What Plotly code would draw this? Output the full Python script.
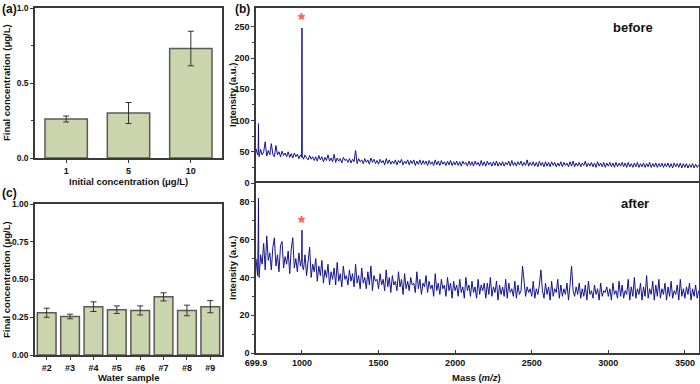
import plotly.graph_objects as go

# ---------------- data ----------------
init_conc = ["1", "5", "10"]
final_conc_a = [0.26, 0.30, 0.73]
err_a = [0.02, 0.07, 0.115]

samples = ["#2", "#3", "#4", "#5", "#6", "#7", "#8", "#9"]
final_conc_c = [0.28, 0.255, 0.32, 0.30, 0.295, 0.385, 0.295, 0.32]
err_c = [0.03, 0.015, 0.032, 0.025, 0.03, 0.027, 0.035, 0.04]

mass = [
    700, 710, 714, 716, 718, 720, 730, 740, 750, 760, 770, 780, 790,
    800, 810, 820, 830, 840, 850, 860, 870, 880, 890,
    900, 910, 920, 930, 940, 950, 960, 970, 980, 990, 998,
    1000, 1002, 1010, 1020, 1030, 1040, 1050, 1060, 1070, 1080, 1090,
    1100, 1110, 1120, 1130, 1140, 1150, 1160, 1170, 1180, 1190,
    1200, 1210, 1220, 1230, 1240, 1250, 1260, 1270, 1280, 1290,
    1300, 1310, 1320, 1330, 1340, 1350, 1360, 1370, 1380, 1390,
    1400, 1410, 1420, 1430, 1440, 1450, 1460, 1470, 1480, 1490,
    1500, 1510, 1520, 1530, 1540, 1550, 1560, 1570, 1580, 1590,
    1600, 1610, 1620, 1630, 1640, 1650, 1660, 1670, 1680, 1690,
    1700, 1710, 1720, 1730, 1740, 1750, 1760, 1770, 1780, 1790,
    1800, 1810, 1820, 1830, 1840, 1850, 1860, 1870, 1880, 1890,
    1900, 1910, 1920, 1930, 1940, 1950, 1960, 1970, 1980, 1990,
    2000, 2010, 2020, 2030, 2040, 2050, 2060, 2070, 2080, 2090,
    2100, 2110, 2120, 2130, 2140, 2150, 2160, 2170, 2180, 2190,
    2200, 2210, 2220, 2230, 2240, 2250, 2260, 2270, 2280, 2290,
    2300, 2310, 2320, 2330, 2340, 2350, 2360, 2370, 2380, 2390,
    2400, 2410, 2420, 2430, 2440, 2450, 2460, 2470, 2480, 2490,
    2500, 2510, 2520, 2530, 2540, 2550, 2560, 2570, 2580, 2590,
    2600, 2610, 2620, 2630, 2640, 2650, 2660, 2670, 2680, 2690,
    2700, 2710, 2720, 2730, 2740, 2750, 2760, 2770, 2780, 2790,
    2800, 2810, 2820, 2830, 2840, 2850, 2860, 2870, 2880, 2890,
    2900, 2910, 2920, 2930, 2940, 2950, 2960, 2970, 2980, 2990,
    3000, 3010, 3020, 3030, 3040, 3050, 3060, 3070, 3080, 3090,
    3100, 3110, 3120, 3130, 3140, 3150, 3160, 3170, 3180, 3190,
    3200, 3210, 3220, 3230, 3240, 3250, 3260, 3270, 3280, 3290,
    3300, 3310, 3320, 3330, 3340, 3350, 3360, 3370, 3380, 3390,
    3400, 3410, 3420, 3430, 3440, 3450, 3460, 3470, 3480, 3490,
    3500, 3510, 3520, 3530, 3540, 3550, 3560, 3570, 3580, 3590,
]

intensity_before = [
    55, 45, 49, 95, 47, 42, 54, 45, 50, 66, 43, 52, 45,
    63, 46, 42, 60, 45, 50, 42, 51, 44, 48,
    42, 50, 41, 47, 40, 48, 42, 46, 39, 45, 41,
    248, 43, 38, 45, 40, 37, 44, 38, 42, 36, 42,
    35, 44, 37, 42, 34, 41, 36, 45, 35, 40,
    34, 46, 33, 40, 35, 39, 32, 41, 36, 38,
    33, 39, 32, 38, 34, 52, 31, 39, 34, 37,
    31, 39, 33, 37, 30, 40, 33, 38, 31, 36,
    30, 38, 32, 36, 29, 39, 31, 37, 30, 35,
    31, 37, 29, 36, 32, 38, 29, 35, 31, 37,
    29, 36, 31, 37, 28, 35, 30, 37, 29, 36,
    30, 35, 28, 36, 30, 34, 28, 37, 29, 35,
    28, 36, 30, 34, 28, 35, 29, 36, 28, 34,
    29, 35, 28, 34, 27, 35, 30, 33, 27, 35,
    28, 34, 27, 35, 29, 33, 27, 36, 28, 34,
    27, 35, 29, 33, 27, 34, 28, 35, 27, 33,
    28, 34, 27, 33, 29, 35, 27, 36, 28, 33,
    27, 34, 29, 35, 27, 33, 28, 37, 27, 33,
    28, 34, 27, 33, 26, 35, 28, 33, 26, 34,
    27, 33, 26, 34, 28, 33, 26, 32, 27, 34,
    26, 33, 28, 32, 26, 34, 27, 35, 26, 32,
    27, 33, 26, 32, 28, 35, 26, 32, 27, 33,
    26, 32, 25, 34, 27, 32, 26, 33, 25, 32,
    27, 33, 26, 32, 25, 33, 26, 32, 27, 33,
    26, 32, 25, 33, 26, 31, 25, 32, 26, 33,
    25, 31, 26, 32, 25, 31, 26, 33, 25, 31,
    26, 32, 25, 31, 26, 32, 25, 31, 26, 32,
    25, 31, 24, 32, 26, 31, 25, 32, 24, 31,
    25, 31, 24, 30, 25, 31, 24, 30, 25, 29,
]

intensity_after = [
    50, 41, 60, 82, 45, 40, 52, 47, 58, 44, 62, 49, 53,
    44, 56, 61, 46, 52, 43, 57, 59, 45, 51,
    47, 54, 42, 55, 61, 45, 50, 43, 53, 46, 50,
    65, 46, 44, 52, 41, 49, 56, 40, 47, 43, 50,
    38, 46, 41, 49, 37, 44, 40, 47, 36, 43,
    39, 45, 36, 48, 38, 42, 35, 46, 39, 41,
    36, 44, 38, 42, 35, 47, 37, 41, 34, 45,
    37, 40, 34, 43, 36, 46, 33, 41, 38, 39,
    34, 42, 36, 39, 33, 44, 35, 40, 32, 41,
    36, 38, 33, 43, 35, 39, 31, 42, 34, 38,
    33, 40, 36, 37, 32, 43, 34, 39, 31, 37,
    35, 41, 32, 38, 34, 36, 30, 42, 33, 37,
    31, 39, 34, 36, 30, 40, 33, 37, 29, 38,
    33, 36, 30, 39, 32, 35, 29, 40, 33, 36,
    30, 38, 32, 35, 29, 39, 31, 36, 33, 37,
    29, 37, 31, 40, 30, 35, 32, 38, 28, 36,
    31, 35, 30, 39, 29, 37, 32, 34, 30, 38,
    29, 36, 31, 33, 46, 37, 30, 35, 32, 34,
    30, 38, 29, 34, 31, 36, 44, 33, 29, 37,
    31, 35, 28, 38, 30, 34, 32, 39, 29, 36,
    30, 34, 31, 37, 28, 36, 46, 33, 30, 35,
    31, 37, 29, 34, 30, 36, 28, 38, 31, 33,
    29, 36, 31, 34, 28, 37, 30, 33, 32, 35,
    30, 34, 28, 37, 31, 33, 29, 38, 30, 36,
    29, 33, 31, 39, 28, 35, 30, 40, 29, 34,
    31, 37, 28, 35, 30, 41, 29, 34, 31, 38,
    28, 36, 30, 39, 29, 34, 31, 37, 28, 35,
    30, 38, 29, 33, 31, 36, 28, 39, 30, 34,
    29, 35, 31, 37, 28, 34, 30, 36, 29, 33,
]

mass_ticks = [699.9, 1000, 1500, 2000, 2500, 3000, 3500]
mass_ticktext = ["699.9", "1000", "1500", "2000", "2500", "3000", "3500"]

# ---------------- styling ----------------
FONT = "Liberation Sans"
AXC = "#3a3a3a"
BAR = "#cbd5ad"
LINE = "#14148a"
W, H = 700, 384


def px(x0, x1):
    return [x0 / W, x1 / W]


def py(top, bottom):
    return [1 - bottom / H, 1 - top / H]


tickf = dict(family=FONT, size=9, color="#111", weight="bold")
tickf_small = dict(family=FONT, size=8.5, color="#111", weight="bold")
titlef = dict(family=FONT, size=9.5, color="#111", weight="bold")

fig = go.Figure()

fig.add_trace(go.Bar(x=init_conc, y=final_conc_a, width=0.68,
                     marker=dict(color=BAR, line=dict(color="#5a5a5a", width=1.5)),
                     error_y=dict(type="data", array=err_a, color="#333", thickness=1, width=3),
                     xaxis="x", yaxis="y", showlegend=False))
fig.add_trace(go.Bar(x=samples, y=final_conc_c, width=0.8,
                     marker=dict(color=BAR, line=dict(color="#5a5a5a", width=1.5)),
                     error_y=dict(type="data", array=err_c, color="#333", thickness=1, width=3),
                     xaxis="x2", yaxis="y2", showlegend=False))
fig.add_trace(go.Scatter(x=mass, y=intensity_before, mode="lines", line=dict(color=LINE, width=1),
                         xaxis="x3", yaxis="y3", showlegend=False))
fig.add_trace(go.Scatter(x=mass, y=intensity_after, mode="lines", line=dict(color=LINE, width=1),
                         xaxis="x4", yaxis="y4", showlegend=False))

common = dict(showline=True, linecolor=AXC, linewidth=1.5, mirror=True, showgrid=False, zeroline=False,
              tickfont=tickf, ticks="outside", ticklen=3, tickcolor=AXC, tickwidth=1, automargin=False)
common_small = {**common, "tickfont": tickf_small}

fig.update_layout(
    width=W, height=H, margin=dict(l=0, r=0, t=0, b=0),
    paper_bgcolor="white", plot_bgcolor="white",
    font=dict(family=FONT),
    xaxis=dict(domain=px(35, 222), anchor="y", type="category", range=[-0.5, 2.5], **common),
    yaxis=dict(domain=py(8, 158), anchor="x", range=[0, 1.0], tickvals=[0, 0.5, 1.0], ticktext=["0.0", "0.5", "1.0"],
               minor=dict(tickvals=[0.25, 0.75], ticks="outside", ticklen=2, tickcolor=AXC), **common_small),
    xaxis2=dict(domain=px(35, 222), anchor="y2", type="category", range=[-0.5, 7.5], **common),
    yaxis2=dict(domain=py(204, 355), anchor="x2", range=[0, 1.0], tickvals=[0, 0.25, 0.5, 0.75, 1.0],
                ticktext=["0.00", "0.25", "0.50", "0.75", "1.00"], **common_small),
    xaxis3=dict(domain=px(256, 699), anchor="y3", side="top", range=[699.9, 3592], showticklabels=False,
                showline=True, linecolor=AXC, linewidth=1.5, mirror=False, showgrid=False, zeroline=False,
                ticks="", automargin=False),
    yaxis3=dict(domain=py(8, 183), anchor="x3", range=[0, 280], tickvals=[0, 50, 100, 150, 200, 250],
                minor=dict(tickvals=[25, 75, 125, 175, 225], ticks="outside", ticklen=2, tickcolor=AXC), **common),
    xaxis4=dict(domain=px(256, 699), anchor="y4", range=[699.9, 3592], tickvals=mass_ticks, ticktext=mass_ticktext,
                **{**common, "ticks": "inside"}),
    yaxis4=dict(domain=py(183, 353), anchor="x4", range=[0, 90], tickvals=[0, 20, 40, 60, 80],
                minor=dict(tickvals=[10, 30, 50, 70], ticks="outside", ticklen=2, tickcolor=AXC), **common),
)


def pann(text, x, y, font, angle=0, xanchor="center"):
    return dict(text=text, x=x / W, y=1 - y / H, xref="paper", yref="paper", xanchor=xanchor, yanchor="middle",
                textangle=angle, showarrow=False, font=font)


lab = dict(family=FONT, size=12, color="#111", weight="bold")
lab2 = dict(family=FONT, size=13, color="#111", weight="bold")
ann = [
    pann("(a)", 0, 9, lab, xanchor="left"),
    pann("(b)", 233, 9, lab, xanchor="left"),
    pann("(c)", 0, 193, lab, xanchor="left"),
    pann("before", 633, 27, lab2),
    pann("after", 635, 203, lab2),
    # axis titles
    pann("Final concentration (μg/L)", 6, 83, titlef, angle=-90),
    pann("Initial concentration (μg/L)", 128, 181, titlef),
    pann("Final concentration (μg/L)", 6, 280, titlef, angle=-90),
    pann("Water sample", 128, 377, titlef),
    pann("Intensity (a.u.)", 232, 95, titlef, angle=-90),
    pann("Intensity (a.u.)", 232, 268, titlef, angle=-90),
    pann("Mass (<i>m/z</i>)", 477, 377, titlef),
    # peak markers
    dict(text="*", x=1000, y=261, xref="x3", yref="y3", xanchor="center", yanchor="middle", showarrow=False,
         font=dict(family=FONT, size=18, color="#ff5a5a", weight="bold")),
    dict(text="*", x=1000, y=69, xref="x4", yref="y4", xanchor="center", yanchor="middle", showarrow=False,
         font=dict(family=FONT, size=18, color="#ff5a5a", weight="bold")),
]
fig.update_layout(annotations=ann)

fig.write_html("out.html", config={"displayModeBar": False},
               post_script="document.body.style.margin='0';document.body.style.overflow='hidden';")
